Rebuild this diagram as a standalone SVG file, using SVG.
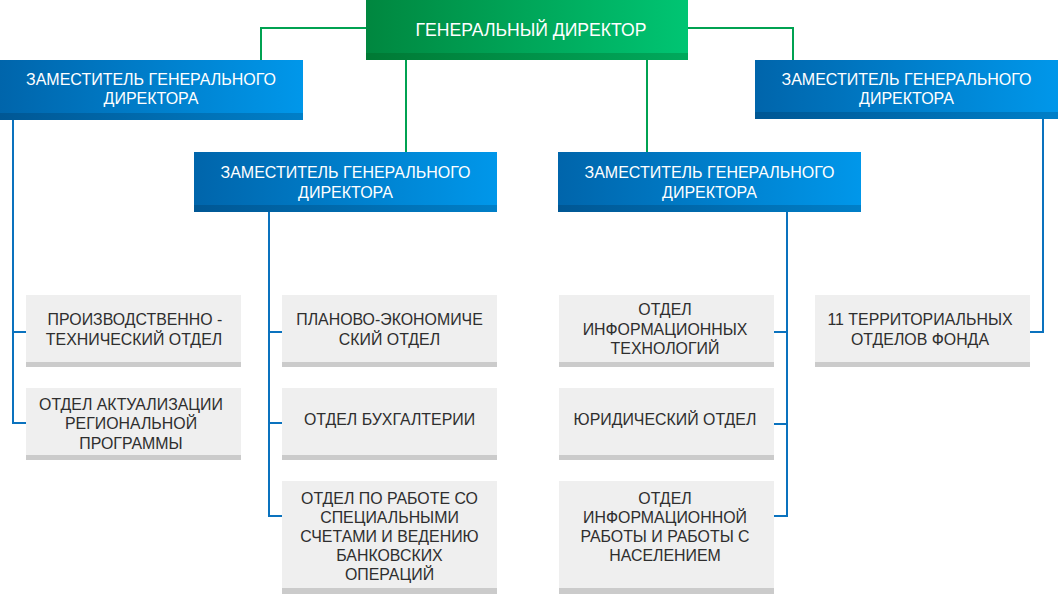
<svg xmlns="http://www.w3.org/2000/svg" width="1059" height="594" viewBox="0 0 1059 594">
<defs>
<linearGradient id="gGreen" x1="0" y1="0" x2="1" y2="0"><stop offset="0" stop-color="#00873f"/><stop offset="1" stop-color="#00c573"/></linearGradient>
<linearGradient id="gGreenB" x1="0" y1="0" x2="1" y2="0"><stop offset="0" stop-color="#007934"/><stop offset="1" stop-color="#00a95c"/></linearGradient>
<linearGradient id="gBlue" x1="0" y1="0" x2="1" y2="0"><stop offset="0" stop-color="#0065ab"/><stop offset="1" stop-color="#0097ea"/></linearGradient>
<linearGradient id="gBlueB" x1="0" y1="0" x2="1" y2="0"><stop offset="0" stop-color="#005794"/><stop offset="1" stop-color="#007fc8"/></linearGradient>
</defs>
<style>
.hd{font-family:"Liberation Sans",Arial,sans-serif;fill:#fff;text-anchor:middle}
.t{font-family:"Liberation Sans",Arial,sans-serif;fill:#2e2e2e;text-anchor:middle;font-size:15.9px}
.gray{fill:#efefef}
.band{fill:#cbcbcb}
.gl{fill:none;stroke:#00a251;stroke-width:2}
.bl{fill:none;stroke:#0a72be;stroke-width:2}
</style>
<g id="connectors">
<path class="gl" d="M366,28 H261 V60 M688,28 H793 V60 M406,60 V152 M647,60 V152"/>
<path class="bl" d="M13,120 V423 H26 M13,332 H26"/>
<path class="bl" d="M269,212 V516 H282 M269,332 H282 M269,423 H282"/>
<path class="bl" d="M787,212 V516 H774 M787,332 H774 M787,424 H774"/>
<path class="bl" d="M1043,119 V332 H1030"/>
</g>
<g id="gen">
<rect x="366" y="0" width="322" height="60" fill="url(#gGreen)"/>
<rect x="366" y="53" width="322" height="7" fill="url(#gGreenB)"/>
<text class="hd" x="531" y="35.5" font-size="17.6">ГЕНЕРАЛЬНЫЙ ДИРЕКТОР</text>
</g>
<g id="dep1">
<rect x="0" y="60" width="303" height="60" fill="url(#gBlue)"/>
<rect x="0" y="113" width="303" height="7" fill="url(#gBlueB)"/>
<text class="hd" font-size="16"><tspan x="151" y="84.5">ЗАМЕСТИТЕЛЬ ГЕНЕРАЛЬНОГО</tspan><tspan x="151" y="104">ДИРЕКТОРА</tspan></text>
</g>
<g id="dep2">
<rect x="194" y="152" width="303" height="60" fill="url(#gBlue)"/>
<rect x="194" y="205" width="303" height="7" fill="url(#gBlueB)"/>
<text class="hd" font-size="16"><tspan x="345.5" y="177.5">ЗАМЕСТИТЕЛЬ ГЕНЕРАЛЬНОГО</tspan><tspan x="345.5" y="197.5">ДИРЕКТОРА</tspan></text>
</g>
<g id="dep3">
<rect x="558" y="152" width="303" height="60" fill="url(#gBlue)"/>
<rect x="558" y="205" width="303" height="7" fill="url(#gBlueB)"/>
<text class="hd" font-size="16"><tspan x="709.5" y="177.5">ЗАМЕСТИТЕЛЬ ГЕНЕРАЛЬНОГО</tspan><tspan x="709.5" y="197.5">ДИРЕКТОРА</tspan></text>
</g>
<g id="dep4">
<rect x="755" y="60" width="303" height="59" fill="url(#gBlue)"/>
<rect x="755" y="112" width="303" height="7" fill="url(#gBlueB)"/>
<text class="hd" font-size="16"><tspan x="906.5" y="84.5">ЗАМЕСТИТЕЛЬ ГЕНЕРАЛЬНОГО</tspan><tspan x="906.5" y="104">ДИРЕКТОРА</tspan></text>
</g>
<g id="pto">
<rect class="gray" x="26" y="295" width="215" height="72"/>
<rect class="band" x="26" y="362" width="215" height="5"/>
<text class="t"><tspan x="135" y="325">ПРОИЗВОДСТВЕННО -</tspan><tspan x="134" y="344.5">ТЕХНИЧЕСКИЙ ОТДЕЛ</tspan></text>
</g>
<g id="oarp">
<rect class="gray" x="26" y="388" width="215" height="72"/>
<rect class="band" x="26" y="455" width="215" height="5"/>
<text class="t"><tspan x="131" y="409.5">ОТДЕЛ АКТУАЛИЗАЦИИ</tspan><tspan x="131" y="429">РЕГИОНАЛЬНОЙ</tspan><tspan x="131" y="448.5">ПРОГРАММЫ</tspan></text>
</g>
<g id="peo">
<rect class="gray" x="282" y="295" width="215" height="72"/>
<rect class="band" x="282" y="362" width="215" height="5"/>
<text class="t"><tspan x="389.5" y="325">ПЛАНОВО-ЭКОНОМИЧЕ</tspan><tspan x="389.5" y="344.5">СКИЙ ОТДЕЛ</tspan></text>
</g>
<g id="buh">
<rect class="gray" x="282" y="388" width="215" height="72"/>
<rect class="band" x="282" y="455" width="215" height="5"/>
<text class="t" x="389.5" y="424.5">ОТДЕЛ БУХГАЛТЕРИИ</text>
</g>
<g id="spec">
<rect class="gray" x="282" y="481" width="215" height="113"/>
<rect class="band" x="282" y="588" width="215" height="6"/>
<text class="t"><tspan x="389.5" y="503.5">ОТДЕЛ ПО РАБОТЕ СО</tspan><tspan x="389.5" y="523">СПЕЦИАЛЬНЫМИ</tspan><tspan x="389.5" y="542">СЧЕТАМИ И ВЕДЕНИЮ</tspan><tspan x="389.5" y="561">БАНКОВСКИХ</tspan><tspan x="389.5" y="580">ОПЕРАЦИЙ</tspan></text>
</g>
<g id="it">
<rect class="gray" x="559" y="295" width="215" height="72"/>
<rect class="band" x="559" y="362" width="215" height="5"/>
<text class="t"><tspan x="665" y="315">ОТДЕЛ</tspan><tspan x="665" y="334.5">ИНФОРМАЦИОННЫХ</tspan><tspan x="665" y="354">ТЕХНОЛОГИЙ</tspan></text>
</g>
<g id="jur">
<rect class="gray" x="559" y="388" width="215" height="72"/>
<rect class="band" x="559" y="455" width="215" height="5"/>
<text class="t" x="665" y="424.5">ЮРИДИЧЕСКИЙ ОТДЕЛ</text>
</g>
<g id="info">
<rect class="gray" x="559" y="481" width="215" height="113"/>
<rect class="band" x="559" y="588" width="215" height="6"/>
<text class="t"><tspan x="665" y="503.5">ОТДЕЛ</tspan><tspan x="665" y="523">ИНФОРМАЦИОННОЙ</tspan><tspan x="665" y="542">РАБОТЫ И РАБОТЫ С</tspan><tspan x="665" y="561">НАСЕЛЕНИЕМ</tspan></text>
</g>
<g id="terr">
<rect class="gray" x="815" y="295" width="215" height="72"/>
<rect class="band" x="815" y="362" width="215" height="5"/>
<text class="t"><tspan x="920" y="325">11 ТЕРРИТОРИАЛЬНЫХ</tspan><tspan x="920" y="344.5">ОТДЕЛОВ ФОНДА</tspan></text>
</g>
</svg>
